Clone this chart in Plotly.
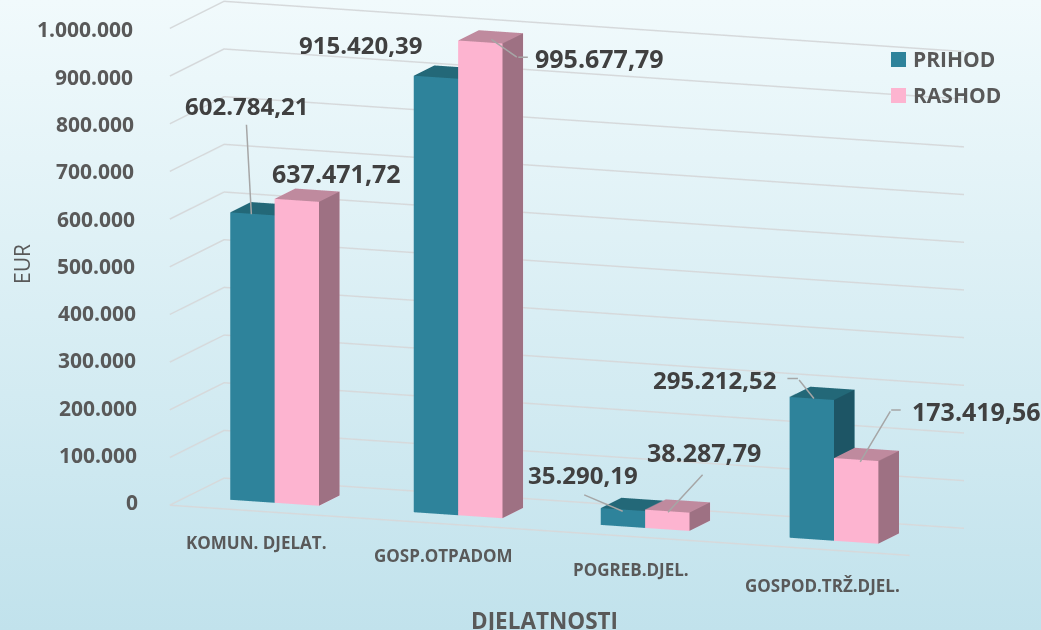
import math
import urllib.parse
import plotly.graph_objects as go

categories = ["KOMUN. DJELAT.", "GOSP.OTPADOM", "POGREB.DJEL.", "GOSPOD.TRŽ.DJEL."]
prihod = [602784.21, 915420.39, 35290.19, 295212.52]
rashod = [637471.72, 995677.79, 38287.79, 173419.56]
prihod_labels = ["602.784,21", "915.420,39", "35.290,19", "295.212,52"]
rashod_labels = ["637.471,72", "995.677,79", "38.287,79", "173.419,56"]
ticks = [0, 100000, 200000, 300000, 400000, 500000, 600000, 700000, 800000, 900000, 1000000]
tick_labels = ["0", "100.000", "200.000", "300.000", "400.000", "500.000", "600.000", "700.000", "800.000", "900.000", "1.000.000"]
series_names = ["PRIHOD", "RASHOD"]

FONT = "Open Sans"
# category slot centres along the floor axis and bar geometry
cat_pos = [0.476, 1.468, 2.479, 3.50]
BAR_W, Y0, Y1 = 0.24, 0.31, 0.69

# view
TH, EL = math.radians(20.25), math.radians(10.6)
SX, SY, SZ = 783.6, 156.0, 482.0
P0 = (172.0, 504.0)   # pixel of x=0,y=0,z=0
U = 313.0             # page pixels per scene unit in the orthographic view
D = 4.0
W, H = 1041, 630
ct, st, ce, se = math.cos(TH), math.sin(TH), math.cos(EL), math.sin(EL)
ax_, ay_, az_ = (SX * ct, SX * st * se), (SY * st, -SY * ct * se), (0.0, -SZ * ce)


def px(x, y, z):
    return (P0[0] + x / 4 * ax_[0] + y * ay_[0] + z / 1e6 * az_[0],
            P0[1] + x / 4 * ax_[1] + y * ay_[1] + z / 1e6 * az_[1])


bc = px(2, .5, 5e5)
dr, du = (W / 2 - bc[0]) / U, (bc[1] - H / 2) / U
cen = (dr * ct + du * (-st * se), dr * st + du * (ct * se), du * ce)
eye = (cen[0] + D * st * ce, cen[1] - D * ct * ce, cen[2] + D * se)


def bars(name, values, offset, front, top, side):
    xs, ys, zs, ii, jj, kk, fc = [], [], [], [], [], [], []
    for c, v in zip(cat_pos, values):
        x0, x1 = c + offset, c + offset + BAR_W
        n = len(xs)
        for x, y, z in [(x0, Y0, 0), (x1, Y0, 0), (x1, Y1, 0), (x0, Y1, 0),
                        (x0, Y0, v), (x1, Y0, v), (x1, Y1, v), (x0, Y1, v)]:
            xs.append(x); ys.append(y); zs.append(z)
        quads = [((0, 1, 5, 4), front), ((4, 5, 6, 7), top), ((1, 2, 6, 5), side),
                 ((0, 3, 7, 4), front), ((3, 2, 6, 7), front), ((0, 1, 2, 3), front)]
        for (a, b, c2, d), col in quads:
            ii += [n + a, n + a]; jj += [n + b, n + c2]; kk += [n + c2, n + d]; fc += [col, col]
    return go.Mesh3d(x=xs, y=ys, z=zs, i=ii, j=jj, k=kk, facecolor=fc, flatshading=True, name=name,
                     lighting=dict(ambient=1, diffuse=0, specular=0, fresnel=0, roughness=1),
                     hoverinfo="skip", showlegend=False)


fig = go.Figure()
gx, gy, gz = [], [], []
for t in ticks:
    gx += [0, 0, 4, None]; gy += [0, 1, 1, None]; gz += [t, t, t, None]
gx += [0, 4, None]; gy += [0, 0, None]; gz += [0, 0, None]
fig.add_trace(go.Scatter3d(x=gx, y=gy, z=gz, mode="lines", line=dict(color="#d6d9db", width=3),
                           hoverinfo="skip", showlegend=False))
fig.add_trace(bars(series_names[0], prihod, -BAR_W, "#2e839b", "#236878", "#1d5565"))
fig.add_trace(bars(series_names[1], rashod, 0, "#fdb4d0", "#bf8a9e", "#9e7183"))

ann = []
for t, lab in zip(ticks, tick_labels):
    right_edge = 137 + 5 * (1 - t / 1e6)
    ann.append(dict(x=0, y=0, z=t, text=f"<b>{lab}</b>", showarrow=False, xanchor="right",
                    xshift=right_edge - P0[0], yshift=3 - 4 * t / 1e6,
                    font=dict(family=FONT, size=21, color="#595959")))
cat_px = [(258, 541), (444, 554), (630.5, 568), (821, 584)]
for c, lab, (tx, ty) in zip(cat_pos, categories, cat_px):
    p = px(c, 0, 0)
    ann.append(dict(x=c, y=0, z=0, text=f"<b>{lab}</b>", showarrow=False, xshift=tx - p[0], yshift=p[1] - ty,
                    font=dict(family=FONT, size=17, color="#595959")))

# value labels: (series values, x offset, text, label size, label centre on the page, leader polyline on the page)
specs = [
    (prihod, -BAR_W / 2, prihod_labels, 24, [(248, 106), (361, 46), (582, 473), (713, 379)],
     [[(248, 124), (253, 215)], None, [(582, 493), (622, 510)], [(784, 378), (796, 378), (812, 398)]]),
    (rashod, BAR_W / 2, rashod_labels, 25, [(338, 174), (600, 60), (703, 451), (974, 410)],
     [None, [(490, 40), (517, 59), (528, 59)], [(703, 472), (667, 511)], [(900, 409), (889, 409), (858, 461)]]),
]
for vals, off, labs, size, centres, leaders in specs:
    for c, v, lab, (tx, ty), lead in zip(cat_pos, vals, labs, centres, leaders):
        p = px(c + off, .5, v)
        base = dict(x=c + off, y=.5, z=v)
        ann.append(dict(base, text=f"<b>{lab}</b>", showarrow=False, xshift=tx - p[0], yshift=p[1] - ty,
                        font=dict(family=FONT, size=size, color="#404040")))
        if lead:
            for a, b in zip(lead[:-1], lead[1:]):
                ann.append(dict(base, text="", showarrow=True, arrowhead=0, arrowwidth=1.5, arrowcolor="#a6a6a6",
                                xshift=b[0] - p[0], yshift=p[1] - b[1], ax=a[0] - b[0], ay=a[1] - b[1]))

hidden = dict(visible=False, showgrid=False, showbackground=False, zeroline=False, showspikes=False)
svg = ('<svg xmlns="http://www.w3.org/2000/svg" width="1041" height="630" preserveAspectRatio="none">'
       '<defs><linearGradient id="g" x1="0" y1="0" x2="0" y2="1">'
       '<stop offset="0" stop-color="#f1fafc"/><stop offset="1" stop-color="#c1e2ec"/>'
       '</linearGradient></defs><rect width="1041" height="630" fill="url(#g)"/></svg>')

page_notes = [
    dict(text="EUR", x=22 / W, y=1 - 264 / H, xref="paper", yref="paper", showarrow=False, textangle=-90,
         xanchor="center", yanchor="middle", font=dict(family=FONT, size=21, color="#595959")),
    dict(text="<b>DJELATNOSTI</b>", x=544 / W, y=1 - 620 / H, xref="paper", yref="paper", showarrow=False,
         xanchor="center", yanchor="middle", font=dict(family=FONT, size=22.5, color="#595959")),
]
legend_shapes = []
for name, col, yc in zip(series_names, ["#2e839b", "#fdb4d0"], [59.5, 95.5]):
    legend_shapes.append(dict(type="rect", xref="paper", yref="paper", x0=891 / W, x1=906 / W,
                              y0=1 - (yc + 7.5) / H, y1=1 - (yc - 7.5) / H, fillcolor=col, line=dict(width=0)))
    page_notes.append(dict(text=f"<b>{name}</b>", x=911 / W, y=1 - (yc - 0.5) / H, xref="paper", yref="paper",
                           xanchor="left", yanchor="middle", showarrow=False,
                           font=dict(family=FONT, size=21, color="#595959")))

fig.update_layout(
    width=W, height=H, margin=dict(l=0, r=0, t=0, b=0), paper_bgcolor="#daedf3",
    font=dict(family=FONT), showlegend=False, shapes=legend_shapes, annotations=page_notes,
    images=[dict(source="data:image/svg+xml," + urllib.parse.quote(svg), xref="paper", yref="paper",
                 x=0, y=1, sizex=1, sizey=1, xanchor="left", yanchor="top", sizing="stretch", layer="below")],
    scene=dict(domain=dict(x=[0, 1], y=[0, 1]), bgcolor="rgba(0,0,0,0)",
               xaxis=dict(hidden, range=[0, 4]), yaxis=dict(hidden, range=[0, 1]), zaxis=dict(hidden, range=[0, 1e6]),
               aspectmode="manual", aspectratio=dict(x=SX / U, y=SY / U, z=SZ / U),
               camera=dict(projection=dict(type="orthographic"),
                           eye=dict(x=eye[0], y=eye[1], z=eye[2]),
                           center=dict(x=cen[0], y=cen[1], z=cen[2]), up=dict(x=0, y=0, z=1)),
               annotations=ann),
)
fig.write_html("out.html", post_script="document.body.style.margin='0';", config=dict(displayModeBar=False))
